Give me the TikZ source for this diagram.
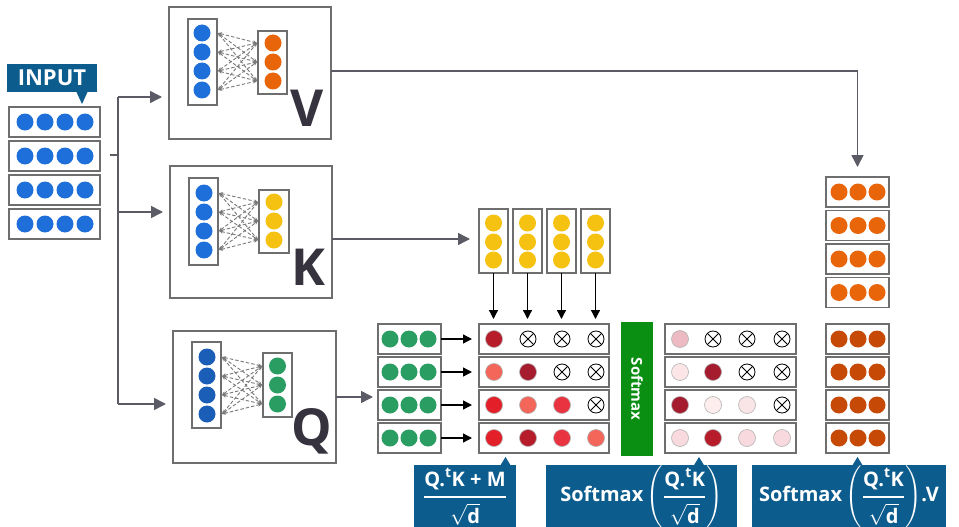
\documentclass[tikz,border=0pt]{standalone}
\usepackage{amsmath}
\usepackage{fontspec}
\setmainfont{Open Sans}
\usetikzlibrary{arrows.meta}
\definecolor{lblue}{RGB}{12,92,142}
\definecolor{boxgray}{HTML}{6E6E6E}
\definecolor{arrgray}{HTML}{5B5B66}
\definecolor{dashgray}{HTML}{7A7A7A}
\definecolor{inblue}{HTML}{1F6FDB}
\definecolor{qblue}{HTML}{1B5EB8}
\definecolor{vorange}{HTML}{E8650A}
\definecolor{dorange}{HTML}{C64A05}
\definecolor{kyellow}{HTML}{F5C211}
\definecolor{qgreen}{HTML}{2A9D63}
\definecolor{sgreen}{HTML}{0A8F12}
\definecolor{lettergray}{HTML}{36333F}
\definecolor{rA}{HTML}{B71C2B}
\definecolor{rB}{HTML}{A51C2E}
\definecolor{rC}{HTML}{F4665A}
\definecolor{rD}{HTML}{E3202A}
\definecolor{rE}{HTML}{EA3340}
\definecolor{pA}{HTML}{EDBAC1}
\definecolor{pB}{HTML}{FCE6E5}
\definecolor{pC}{HTML}{FDEDEC}
\definecolor{pD}{HTML}{F9E4E6}
\definecolor{pE}{HTML}{F8D9DE}
\newcommand{\ball}[3]{\fill[#3] (#1,#2) circle[radius=8.5pt];}
\newcommand{\gball}[3]{\draw[fill=#3,draw=gray!60,line width=0.6pt] (#1,#2) circle[radius=8.5pt];}
\newcommand{\xball}[2]{\draw[fill=white,draw=black,line width=0.8pt] (#1,#2) circle[radius=8pt];
  \draw[black,line width=0.8pt] (#1,#2) ++(-5.6pt,-5.6pt) -- ++(11.2pt,11.2pt) (#1,#2) ++(-5.6pt,5.6pt) -- ++(11.2pt,-11.2pt);}
\newcommand{\lblfont}{\fontsize{20}{24}\selectfont\bfseries}
\begin{document}
\begin{tikzpicture}[x=1pt,y=-1pt,
  box/.style={draw=boxgray,line width=1.6pt,fill=white,inner sep=0pt,outer sep=0pt},
  bigbox/.style={draw=boxgray,line width=2pt,fill=white,inner sep=0pt,outer sep=0pt},
  garr/.style={draw=arrgray,line width=1.6pt,-{Triangle[length=12pt,width=12pt]}},
  barr/.style={draw=black,line width=1.3pt,-{Triangle[length=9pt,width=9pt]}},
  dconn/.style={draw=dashgray,line width=0.9pt,dash pattern=on 3.5pt off 2pt,
     {Stealth[length=4pt,width=3.5pt]}-{Stealth[length=4pt,width=3.5pt]}},
  lbl/.style={fill=lblue,text=white,inner sep=0pt,outer sep=0pt},
  bigletter/.style={text=lettergray,font=\fontsize{51}{51}\selectfont\bfseries,inner sep=0pt}]
\useasboundingbox (0,0) rectangle (959,527);

% ---------- INPUT ----------
\node[lbl,minimum width=90pt,minimum height=28pt,font=\fontsize{22}{24}\selectfont\bfseries] (inlbl) at (52,78) {INPUT};
\fill[lblue] (76,91) -- (82,104) -- (88,91) -- cycle;
\foreach \i/\y in {1/122,2/156,3/190,4/224}{
  \node[box,minimum width=91pt,minimum height=30pt] (in\i) at (54.5,\y) {};
  \foreach \x in {25,45,65,85} {\ball{\x}{\y}{inblue}}
}

% ---------- branching lines ----------
\coordinate (stub) at (110,155);
\coordinate (split) at (118,155);
\coordinate (bV) at (118,97);
\coordinate (bK) at (118,212);
\coordinate (bQ) at (118,404);
\draw[draw=arrgray,line width=1.6pt] (stub) -- (split);
\draw[draw=arrgray,line width=1.6pt] (bV) -- (bQ);

% ---------- V box ----------
\node[bigbox,minimum width=162pt,minimum height=132pt] (vbox) at (250,73) {};
\node[box,minimum width=29pt,minimum height=86pt] (vin) at (202.5,62) {};
\node[box,minimum width=29pt,minimum height=63pt] (vout) at (272.5,62.5) {};
\foreach \a in {33,52,71,90}{\foreach \b in {43,62,81}{\draw[dconn] (218,\a) -- (257,\b);}}
\foreach \a in {33,52,71,90}{\ball{202}{\a}{inblue}}
\foreach \b in {43,62,81}{\ball{273}{\b}{vorange}}
\node[bigletter] (vlet) at (307,108) {V};

% ---------- K box ----------
\node[bigbox,minimum width=162pt,minimum height=132pt] (kbox) at (251,232) {};
\node[box,minimum width=29pt,minimum height=87pt] (kin) at (203.5,221.5) {};
\node[box,minimum width=30pt,minimum height=63pt] (kout) at (274,221.5) {};
\foreach \a in {193,212,231,250}{\foreach \b in {202,221,240}{\draw[dconn] (219,\a) -- (258,\b);}}
\foreach \a in {193,212,231,250}{\ball{204}{\a}{inblue}}
\foreach \b in {202,221,240}{\ball{274}{\b}{kyellow}}
\node[bigletter] (klet) at (308,267) {K};

% ---------- Q box ----------
\node[bigbox,minimum width=163pt,minimum height=132pt] (qbox) at (254.5,397) {};
\node[box,minimum width=29pt,minimum height=86pt] (qin) at (206.5,385) {};
\node[box,minimum width=29pt,minimum height=64pt] (qout) at (277.5,385) {};
\foreach \a in {357,376,395,414}{\foreach \b in {366,385,404}{\draw[dconn] (222,\a) -- (262,\b);}}
\foreach \a in {357,376,395,414}{\ball{207}{\a}{qblue}}
\foreach \b in {366,385,404}{\ball{277.5}{\b}{qgreen}}
\node[bigletter] (qlet) at (312,431) {Q};

% branch arrows
\draw[garr,shorten >=7pt] (bV) -- (bV -| vbox.west);
\draw[garr,shorten >=7pt] (bK) -- (bK -| kbox.west);
\draw[garr,shorten >=7pt] (bQ) -- (bQ -| qbox.west);

% ---------- K columns ----------
\foreach \i/\x in {1/493.5,2/527.5,3/561.5,4/595.5}{
  \node[box,minimum width=29pt,minimum height=64pt] (kc\i) at (\x,241) {};
  \foreach \y in {223,242,260}{\ball{\x}{\y}{kyellow}}
}
\coordinate (kend) at (470,239);
\draw[garr] (kbox.east |- kend) -- (kend);

% ---------- Q rows, score grid, softmax grid, output ----------
\foreach \i/\y in {1/339,2/372,3/405,4/438}{
  \node[box,minimum width=63pt,minimum height=30pt] (qr\i) at (409.5,\y) {};
  \foreach \x in {390,409,428}{\ball{\x}{\y}{qgreen}}
  \node[box,minimum width=130pt,minimum height=30pt] (sr\i) at (544,\y) {};
  \node[box,minimum width=131pt,minimum height=30pt] (pr\i) at (730.5,\y) {};
  \node[box,minimum width=63pt,minimum height=30pt] (or\i) at (857.5,\y) {};
  \foreach \x in {839,858,877}{\ball{\x}{\y}{dorange}}
  \draw[barr,shorten >=7pt] (qr\i.east) -- (sr\i.west);
}
\coordinate (qend) at (373,397);
\draw[garr] (qbox.east |- qend) -- (qend);
\foreach \i in {1,2,3,4}{\draw[barr,shorten >=5pt] (kc\i.south) -- (kc\i.south |- sr1.north);}

% score grid
\gball{494}{339}{rA} \xball{528}{339} \xball{562}{339} \xball{596}{339}
\gball{494}{372}{rC} \gball{528}{372}{rB} \xball{562}{372} \xball{596}{372}
\gball{494}{405}{rD} \gball{528}{405}{rC} \gball{562}{405}{rE} \xball{596}{405}
\gball{494}{438}{rD} \gball{528}{438}{rA} \gball{562}{438}{rE} \gball{596}{438}{rC}
% softmax grid
\gball{680}{339}{pA} \xball{713}{339} \xball{747}{339} \xball{782}{339}
\gball{680}{372}{pB} \gball{713}{372}{rB} \xball{747}{372} \xball{782}{372}
\gball{680}{405}{rB} \gball{713}{405}{pC} \gball{747}{405}{pD} \xball{782}{405}
\gball{680}{438}{pE} \gball{713}{438}{rA} \gball{747}{438}{pE} \gball{782}{438}{pE}

% softmax bar
\node[fill=sgreen,minimum width=32pt,minimum height=134pt,inner sep=0pt] (smax) at (637,389) {};
\node[rotate=-90,text=white,font=\fontsize{15}{16}\selectfont\bfseries] (smaxt) at (smax.center) {Softmax};

% V output column
\foreach \i/\y in {1/192,2/225.5,3/259,4/292.5}{
  \node[box,minimum width=63pt,minimum height=30pt] (vr\i) at (857.5,\y) {};
  \foreach \x in {839,858,877}{\ball{\x}{\y}{vorange}}
}
\draw[garr,shorten >=10pt] (vbox.east |- 0,71) -| (vr1.north);

% ---------- bottom labels ----------
\node[lbl,minimum width=102pt,minimum height=62pt] (l1) at (465,496) {};
\fill[lblue] (500,466) -- (505.5,457) -- (511,466) -- cycle;
\node[text=white,font=\lblfont,inner sep=0pt] (l1t) at (465,496.5)
  {$\genfrac{}{}{2pt}{0}{\text{Q.}^{\text{t}}\text{K + M}}{\sqrt{\text{d}}}$};

\node[lbl,minimum width=191pt,minimum height=62pt] (l2) at (641.5,496) {};
\fill[lblue] (693.5,466) -- (699,457) -- (704.5,466) -- cycle;
\node[text=white,font=\lblfont,inner sep=0pt] (l2t) at (641.5,496.5)
  {$\text{Softmax}\left(\genfrac{}{}{2pt}{0}{\text{Q.}^{\text{t}}\text{K}}{\sqrt{\text{d}}}\right)$};

\node[lbl,minimum width=194pt,minimum height=62pt] (l3) at (849,496) {};
\fill[lblue] (852,466) -- (857.5,457) -- (863,466) -- cycle;
\node[text=white,font=\lblfont,inner sep=0pt] (l3t) at (849,496.5)
  {$\text{Softmax}\left(\genfrac{}{}{2pt}{0}{\text{Q.}^{\text{t}}\text{K}}{\sqrt{\text{d}}}\right)\!\text{.V}$};
\end{tikzpicture}
\end{document}
